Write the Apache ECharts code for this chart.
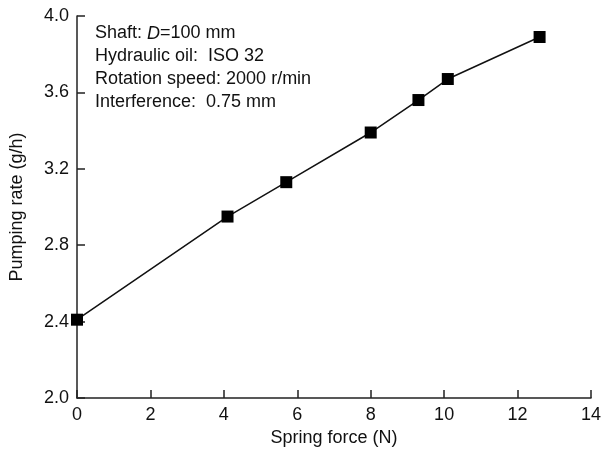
<!DOCTYPE html>
<html><head><meta charset="utf-8">
<script src="https://cdn.jsdelivr.net/npm/echarts@6/dist/echarts.min.js"></script>
<style>html,body{margin:0;padding:0;background:#fff}#c{width:604px;height:452px}</style>
</head><body><div id="c"></div>
<script>
const springForce = [0, 4.1, 5.7, 8.0, 9.3, 10.1, 12.6];
const pumpingRate = [2.41, 2.95, 3.13, 3.39, 3.56, 3.67, 3.89];
const xTicks = [0, 2, 4, 6, 8, 10, 12, 14];
const yTicks = [2.0, 2.4, 2.8, 3.2, 3.6, 4.0];
const notes = ['Hydraulic oil:  ISO 32', 'Rotation speed: 2000 r/min', 'Interference:  0.75 mm'];

const F = 'Liberation Sans, Arial, sans-serif';
const FS = 18;
const chart = echarts.init(document.getElementById('c'), null, {renderer: 'canvas'});
const axisCommon = {
  axisLine: {show: true, lineStyle: {color: '#222', width: 1.5}},
  axisTick: {show: true, inside: true, length: 8, lineStyle: {color: '#222', width: 1.5}},
  splitLine: {show: false},
  nameTextStyle: {fontFamily: F, fontSize: FS, color: '#111'},
  axisLabel: {fontFamily: F, fontSize: FS, color: '#111', margin: 8}
};
chart.setOption({
  animation: false,
  backgroundColor: '#fff',
  grid: {left: 77, right: 9, top: 16, bottom: 54, containLabel: false},
  xAxis: Object.assign({}, axisCommon, {
    type: 'value', min: xTicks[0], max: xTicks[xTicks.length - 1], interval: 2,
    name: 'Spring force (N)', nameLocation: 'middle', nameGap: 31
  }),
  yAxis: Object.assign({}, axisCommon, {
    type: 'value', min: yTicks[0], max: yTicks[yTicks.length - 1], interval: 0.4,
    name: 'Pumping rate (g/h)', nameLocation: 'middle', nameGap: 51,
    axisLabel: Object.assign({}, axisCommon.axisLabel, {formatter: v => v.toFixed(1)})
  }),
  series: [{
    type: 'line',
    data: springForce.map((x, i) => [x, pumpingRate[i]]),
    symbol: 'rect', symbolSize: 12,
    itemStyle: {color: '#000'},
    lineStyle: {color: '#111', width: 1.5},
    clip: false
  }],
  graphic: [{
    type: 'text', left: 95, top: 22,
    style: {
      text: '{n|Shaft: }{i|D}{n|=100 mm}\n' + notes.join('\n'),
      font: FS + 'px ' + F, fill: '#111', lineHeight: 23,
      rich: {
        n: {fontFamily: F, fontSize: FS, fill: '#111', lineHeight: 23},
        i: {fontFamily: F, fontSize: FS, fontStyle: 'italic', fill: '#111', lineHeight: 23}
      }
    }
  }]
});
</script></body></html>
